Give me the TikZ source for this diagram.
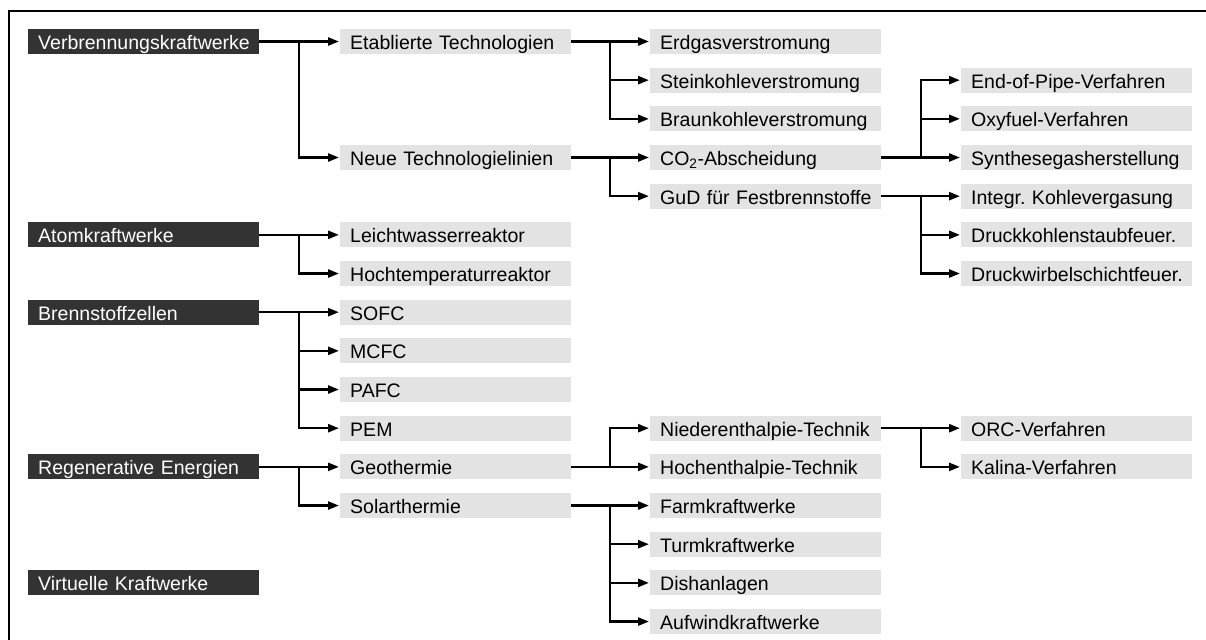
\documentclass[tikz,border=0pt]{standalone}
\usepackage{fontspec}
\setmainfont{Liberation Sans}
\usetikzlibrary{arrows.meta,positioning}
\definecolor{kwDark}{RGB}{51,51,51}
\definecolor{kwLight}{RGB}{227,227,227}
\hyphenpenalty=10000

\begin{document}
\begin{tikzpicture}[
  x=1bp, y=-1bp,
  font=\fontsize{19.6}{23}\selectfont,
  box/.style={anchor=west, minimum height=25bp, text width=221bp, inner xsep=5bp,
    inner ysep=0pt, text height=16bp, text depth=0pt, align=left,
    execute at begin node=\hspace*{5bp}},
  head/.style={box, fill=kwDark, text=white},
  leaf/.style={box, fill=kwLight},
  arr/.style={-{Triangle[length=11bp,width=8bp]}, line width=2.4bp, shorten >=1bp},
]
\def\row#1{41.5+#1*38.67}
\def\ca{28} \def\cb{340} \def\cc{650} \def\cd{961}
\useasboundingbox (0,0) rectangle (1206,640);
% frame
\draw[line width=2.4bp] (9,642) -- (9,11) -- (1208,11);
% junctions
\coordinate (j1) at (299,0);
\coordinate (j2) at (610,0);
\coordinate (j3) at (921,0);
% column 1
\node[head] (vk) at (\ca,\row{0}) {Verbrennungskraftwerke};
\node[head] (ak) at (\ca,\row{5}) {Atomkraftwerke};
\node[head] (bz) at (\ca,\row{7}) {Brennstoffzellen};
\node[head] (re) at (\ca,\row{11}) {Regenerative Energien};
\node[head] (vi) at (\ca,\row{14}) {Virtuelle Kraftwerke};
% column 2
\node[leaf] (et) at (\cb,\row{0}) {Etablierte Technologien};
\node[leaf] (nt) at (\cb,\row{3}) {Neue Technologielinien};
\node[leaf] (lw) at (\cb,\row{5}) {Leichtwasserreaktor};
\node[leaf] (ht) at (\cb,\row{6}) {Hochtemperaturreaktor};
\node[leaf] (sofc) at (\cb,\row{7}) {SOFC};
\node[leaf] (mcfc) at (\cb,\row{8}) {MCFC};
\node[leaf] (pafc) at (\cb,\row{9}) {PAFC};
\node[leaf] (pem) at (\cb,\row{10}) {PEM};
\node[leaf] (geo) at (\cb,\row{11}) {Geothermie};
\node[leaf] (sol) at (\cb,\row{12}) {Solarthermie};
% column 3
\node[leaf] (erd) at (\cc,\row{0}) {Erdgasverstromung};
\node[leaf] (stk) at (\cc,\row{1}) {Steinkohleverstromung};
\node[leaf] (brk) at (\cc,\row{2}) {Braunkohleverstromung};
\node[leaf] (co) at (\cc,\row{3}) {CO\textsubscript{2}-Abscheidung};
\node[leaf] (gud) at (\cc,\row{4}) {GuD für Festbrennstoffe};
\node[leaf] (nie) at (\cc,\row{10}) {Niederenthalpie-Technik};
\node[leaf] (hoe) at (\cc,\row{11}) {Hochenthalpie-Technik};
\node[leaf] (farm) at (\cc,\row{12}) {Farmkraftwerke};
\node[leaf] (turm) at (\cc,\row{13}) {Turmkraftwerke};
\node[leaf] (dish) at (\cc,\row{14}) {Dishanlagen};
\node[leaf] (aufw) at (\cc,\row{15}) {Aufwindkraftwerke};
% column 4
\node[leaf] (eop) at (\cd,\row{1}) {End-of-Pipe-Verfahren};
\node[leaf] (oxy) at (\cd,\row{2}) {Oxyfuel-Verfahren};
\node[leaf] (syn) at (\cd,\row{3}) {Synthesegasherstellung};
\node[leaf] (ikv) at (\cd,\row{4}) {Integr.\ Kohlevergasung};
\node[leaf] (dks) at (\cd,\row{5}) {Druckkohlenstaubfeuer.};
\node[leaf] (dws) at (\cd,\row{6}) {Druckwirbelschichtfeuer.};
\node[leaf] (orc) at (\cd,\row{10}) {ORC-Verfahren};
\node[leaf] (kal) at (\cd,\row{11}) {Kalina-Verfahren};
% connectors
\foreach \p/\c/\j in {vk/et/j1, vk/nt/j1, ak/lw/j1, ak/ht/j1,
    bz/sofc/j1, bz/mcfc/j1, bz/pafc/j1, bz/pem/j1, re/geo/j1, re/sol/j1,
    et/erd/j2, et/stk/j2, et/brk/j2, nt/co/j2, nt/gud/j2,
    geo/nie/j2, geo/hoe/j2, sol/farm/j2, sol/turm/j2, sol/dish/j2, sol/aufw/j2,
    co/eop/j3, co/oxy/j3, co/syn/j3, gud/ikv/j3, gud/dks/j3, gud/dws/j3,
    nie/orc/j3, nie/kal/j3}
  \draw[arr] (\p.east) -- (\p.east -| \j) |- (\c.west);
\end{tikzpicture}
\end{document}
